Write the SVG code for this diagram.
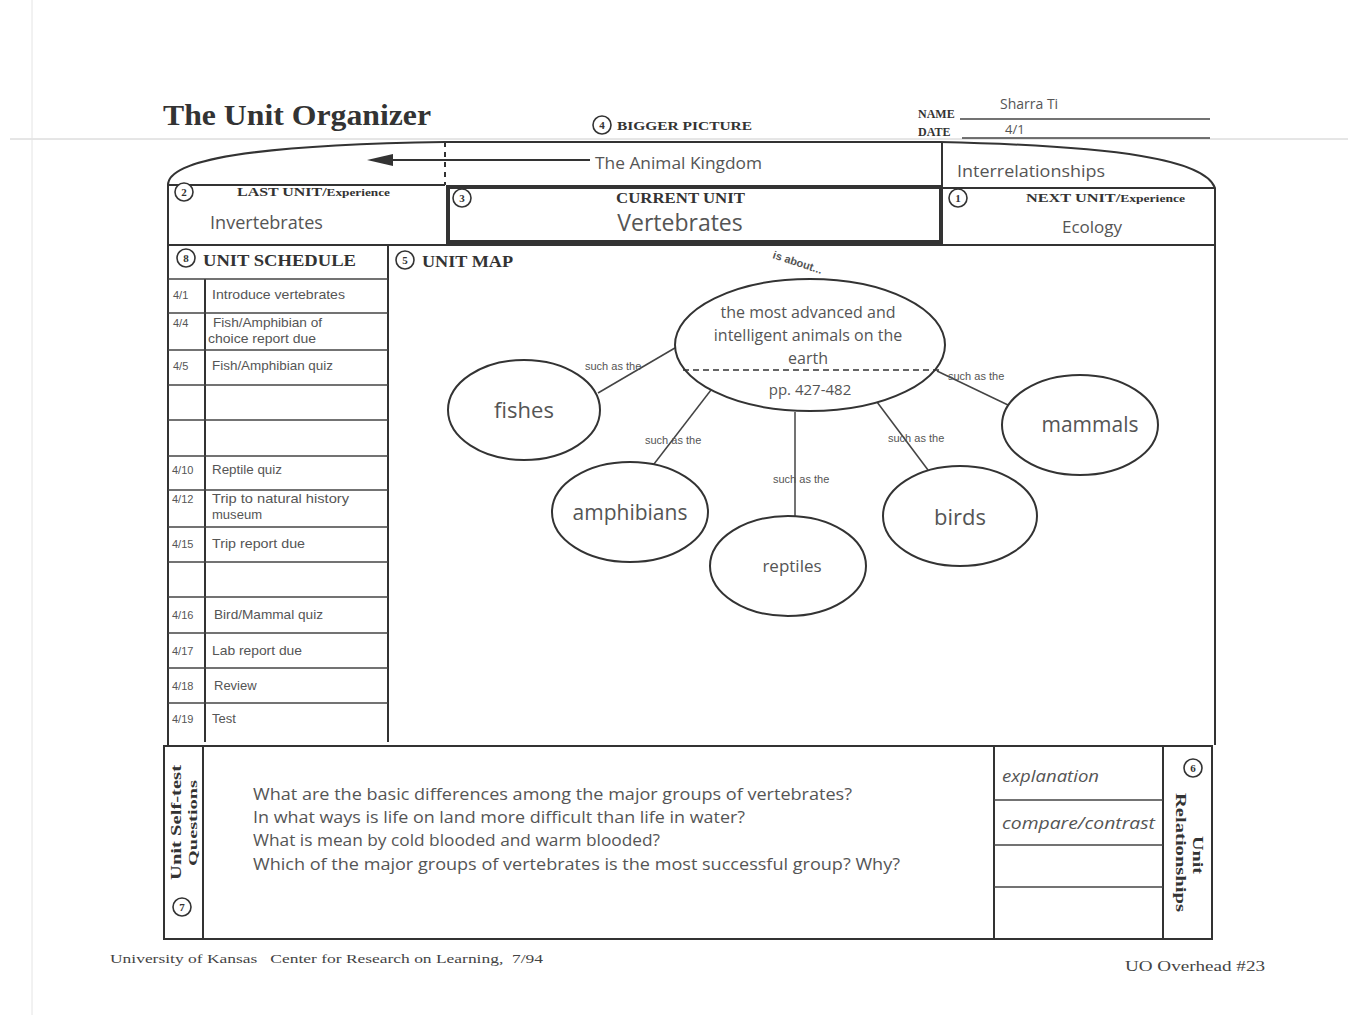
<svg xmlns="http://www.w3.org/2000/svg" width="1348" height="1015" viewBox="0 0 1348 1015">
<defs>
<style>
.ln{stroke:#333;stroke-width:2;fill:none}
.thin{stroke:#444;stroke-width:1.5;fill:none}
.thick{stroke:#333;stroke-width:4;fill:none}
.hd{font-family:"Liberation Serif",serif;font-weight:bold;fill:#333}
.hw{font-family:"Open Sans","DejaVu Sans",sans-serif;fill:#555}
.sm{font-family:"Liberation Sans",sans-serif;fill:#555;font-size:13px}
.lbl{font-family:"Liberation Sans",sans-serif;fill:#555;font-size:11px}
.cn{stroke:#333;stroke-width:1.6;fill:#fff}
.cnt{font-family:"Liberation Serif",serif;font-weight:bold;fill:#333;font-size:11px;text-anchor:middle}
.node{stroke:#333;stroke-width:2;fill:#fff}
</style>
</defs>
<rect width="1348" height="1015" fill="#fff"/>
<line x1="10" y1="139" x2="1348" y2="139" stroke="#ccc" stroke-width="1"/>
<line x1="32" y1="0" x2="32" y2="1015" stroke="#e4e4e4" stroke-width="1"/>

<g id="header">
<text x="163" y="125" class="hd" font-size="29" textLength="268" lengthAdjust="spacingAndGlyphs">The Unit Organizer</text>
<circle cx="602" cy="125" r="9" class="cn"/><text x="602" y="129" class="cnt">4</text>
<text x="617" y="130" class="hd" font-size="13" textLength="135" lengthAdjust="spacingAndGlyphs">BIGGER PICTURE</text>
<text x="918" y="118" class="hd" font-size="12">NAME</text>
<line x1="960" y1="119" x2="1210" y2="119" class="thin"/>
<text x="1000" y="109" class="hw" font-size="14">Sharra Ti</text>
<text x="918" y="136" class="hd" font-size="12">DATE</text>
<line x1="962" y1="138" x2="1210" y2="138" class="thin"/>
<text x="1005" y="134" class="hw" font-size="13">4/1</text>
</g>

<g id="frame">
<path d="M168,245 L168,185 C168,160 250,145 445,142 L940,142 C1120,146 1205,160 1215,188 L1215,745" class="ln" stroke-width="2.5"/>
<line x1="445" y1="142" x2="445" y2="185" stroke="#333" stroke-width="2" stroke-dasharray="5,5"/>
<line x1="942" y1="142" x2="942" y2="245" class="ln" stroke-width="3"/>
<line x1="168" y1="185" x2="445" y2="185" class="ln"/>
<line x1="942" y1="188" x2="1215" y2="188" class="ln"/>
<line x1="168" y1="245" x2="1215" y2="245" class="ln"/>
<line x1="168" y1="245" x2="168" y2="745" class="ln"/>
</g>

<g id="bigger-picture">
<line x1="590" y1="160" x2="390" y2="160" class="ln"/>
<polygon points="367,160 393,154 393,166" fill="#333"/>
<text x="595" y="169" class="hw" font-size="16" textLength="167" lengthAdjust="spacingAndGlyphs">The Animal Kingdom</text>
<text x="957" y="177" class="hw" font-size="16" textLength="148" lengthAdjust="spacingAndGlyphs">Interrelationships</text>
</g>

<g id="last-unit">
<circle cx="184" cy="192" r="9" class="cn"/><text x="184" y="196" class="cnt">2</text>
<text x="237" y="196" class="hd" font-size="12" textLength="153" lengthAdjust="spacingAndGlyphs">LAST UNIT/<tspan font-size="10">Experience</tspan></text>
<text x="210" y="229" class="hw" font-size="18" textLength="113" lengthAdjust="spacingAndGlyphs">Invertebrates</text>
</g>

<g id="current-unit">
<rect x="448" y="187" width="493" height="55" class="thick"/>
<circle cx="462" cy="198" r="9" class="cn"/><text x="462" y="202" class="cnt">3</text>
<text x="616" y="203" class="hd" font-size="14" textLength="129" lengthAdjust="spacingAndGlyphs">CURRENT UNIT</text>
<text x="680" y="231" class="hw" font-size="23" text-anchor="middle">Vertebrates</text>
</g>

<g id="next-unit">
<circle cx="958" cy="198" r="9" class="cn"/><text x="958" y="202" class="cnt">1</text>
<text x="1026" y="202" class="hd" font-size="12" textLength="159" lengthAdjust="spacingAndGlyphs">NEXT UNIT/<tspan font-size="10">Experience</tspan></text>
<text x="1092" y="233" class="hw" font-size="17" text-anchor="middle">Ecology</text>
</g>

<g id="unit-schedule">
<circle cx="186" cy="258" r="9" class="cn"/><text x="186" y="262" class="cnt">8</text>
<text x="203" y="266" class="hd" font-size="16" textLength="153" lengthAdjust="spacingAndGlyphs">UNIT SCHEDULE</text>
<line x1="388" y1="245" x2="388" y2="742" class="ln"/>
<line x1="205" y1="279" x2="205" y2="742" class="ln"/>
<g class="thin">
<line x1="168" y1="279" x2="388" y2="279"/>
<line x1="168" y1="313" x2="388" y2="313"/>
<line x1="168" y1="350" x2="388" y2="350"/>
<line x1="168" y1="385" x2="388" y2="385"/>
<line x1="168" y1="420" x2="388" y2="420"/>
<line x1="168" y1="456" x2="388" y2="456"/>
<line x1="168" y1="490" x2="388" y2="490"/>
<line x1="168" y1="527" x2="388" y2="527"/>
<line x1="168" y1="562" x2="388" y2="562"/>
<line x1="168" y1="597" x2="388" y2="597"/>
<line x1="168" y1="633" x2="388" y2="633"/>
<line x1="168" y1="668" x2="388" y2="668"/>
<line x1="168" y1="703" x2="388" y2="703"/>
</g>
<g class="sm">
<text x="173" y="299" font-size="11">4/1</text><text x="212" y="299" textLength="133" lengthAdjust="spacingAndGlyphs">Introduce vertebrates</text>
<text x="173" y="327" font-size="11">4/4</text><text x="213" y="327" textLength="109" lengthAdjust="spacingAndGlyphs">Fish/Amphibian of</text><text x="208" y="343" textLength="108" lengthAdjust="spacingAndGlyphs">choice report due</text>
<text x="173" y="370" font-size="11">4/5</text><text x="212" y="370" textLength="121" lengthAdjust="spacingAndGlyphs">Fish/Amphibian quiz</text>
<text x="172" y="474" font-size="11">4/10</text><text x="212" y="474" textLength="70" lengthAdjust="spacingAndGlyphs">Reptile quiz</text>
<text x="172" y="503" font-size="11">4/12</text><text x="212" y="503" textLength="137" lengthAdjust="spacingAndGlyphs">Trip to natural history</text><text x="212" y="519" textLength="50" lengthAdjust="spacingAndGlyphs">museum</text>
<text x="172" y="548" font-size="11">4/15</text><text x="212" y="548" textLength="93" lengthAdjust="spacingAndGlyphs">Trip report due</text>
<text x="172" y="619" font-size="11">4/16</text><text x="214" y="619" textLength="109" lengthAdjust="spacingAndGlyphs">Bird/Mammal quiz</text>
<text x="172" y="655" font-size="11">4/17</text><text x="212" y="655" textLength="90" lengthAdjust="spacingAndGlyphs">Lab report due</text>
<text x="172" y="690" font-size="11">4/18</text><text x="214" y="690">Review</text>
<text x="172" y="723" font-size="11">4/19</text><text x="212" y="723">Test</text>
</g>
</g>

<g id="unit-map-title">
<circle cx="405" cy="260" r="9" class="cn"/><text x="405" y="264" class="cnt">5</text>
<text x="422" y="267" class="hd" font-size="16" textLength="91" lengthAdjust="spacingAndGlyphs">UNIT MAP</text>
</g>

<g id="connectors">
<line x1="598" y1="393" x2="680" y2="345" class="thin"/>
<line x1="711" y1="390" x2="654" y2="464" class="thin"/>
<line x1="795" y1="412" x2="795" y2="516" class="thin"/>
<line x1="877" y1="402" x2="928" y2="470" class="thin"/>
<line x1="937" y1="371" x2="1008" y2="405" class="thin"/>
<text x="585" y="370" class="lbl">such as the</text>
<text x="645" y="444" class="lbl">such as the</text>
<text x="773" y="483" class="lbl">such as the</text>
<text x="888" y="442" class="lbl">such as the</text>
<text x="948" y="380" class="lbl">such as the</text>
<text x="772" y="258" class="lbl" font-weight="bold" transform="rotate(18 772 258)">is about...</text>
</g>

<g id="center-node">
<ellipse cx="810" cy="345" rx="135" ry="66" class="node" stroke-width="2.5"/>
<line x1="683" y1="370" x2="940" y2="370" stroke="#333" stroke-width="1.6" stroke-dasharray="6,4"/>
<text class="hw" font-size="16" text-anchor="middle"><tspan x="808" y="318">the most advanced and</tspan><tspan x="808" y="341">intelligent animals on the</tspan><tspan x="808" y="364">earth</tspan></text>
<text x="810" y="395" class="hw" font-size="15" text-anchor="middle">pp. 427-482</text>
</g>

<g id="fishes">
<ellipse cx="524" cy="410" rx="76" ry="50" class="node"/>
<text x="524" y="418" class="hw" font-size="22" text-anchor="middle">fishes</text>
</g>
<g id="amphibians">
<ellipse cx="630" cy="512" rx="78" ry="50" class="node"/>
<text x="630" y="520" class="hw" font-size="21" text-anchor="middle">amphibians</text>
</g>
<g id="reptiles">
<ellipse cx="788" cy="566" rx="78" ry="50" class="node"/>
<text x="792" y="572" class="hw" font-size="17" text-anchor="middle">reptiles</text>
</g>
<g id="birds">
<ellipse cx="960" cy="516" rx="77" ry="50" class="node"/>
<text x="960" y="525" class="hw" font-size="22" text-anchor="middle">birds</text>
</g>
<g id="mammals">
<ellipse cx="1080" cy="425" rx="78" ry="50" class="node"/>
<text x="1090" y="432" class="hw" font-size="21" text-anchor="middle">mammals</text>
</g>

<g id="self-test">
<rect x="164" y="746" width="1048" height="193" class="ln" stroke-width="2.5"/>
<line x1="203" y1="746" x2="203" y2="939" class="ln"/>
<text transform="translate(181 880) rotate(-90)" class="hd" font-size="15" textLength="115" lengthAdjust="spacingAndGlyphs">Unit Self-test</text>
<text transform="translate(197 866) rotate(-90)" class="hd" font-size="13" textLength="86" lengthAdjust="spacingAndGlyphs">Questions</text>
<circle cx="182" cy="907" r="9" class="cn"/><text x="182" y="911" class="cnt">7</text>
<g class="hw" font-size="16">
<text x="253" y="800" textLength="599" lengthAdjust="spacingAndGlyphs">What are the basic differences among the major groups of vertebrates?</text>
<text x="253" y="823" textLength="492" lengthAdjust="spacingAndGlyphs">In what ways is life on land more difficult than life in water?</text>
<text x="253" y="846" textLength="407" lengthAdjust="spacingAndGlyphs">What is mean by cold blooded and warm blooded?</text>
<text x="253" y="870" textLength="647" lengthAdjust="spacingAndGlyphs">Which of the major groups of vertebrates is the most successful group? Why?</text>
</g>
</g>

<g id="relationships">
<line x1="994" y1="746" x2="994" y2="939" class="ln"/>
<line x1="1163" y1="746" x2="1163" y2="939" class="ln"/>
<line x1="994" y1="800" x2="1163" y2="800" class="thin"/>
<line x1="994" y1="845" x2="1163" y2="845" class="thin"/>
<line x1="994" y1="887" x2="1163" y2="887" class="thin"/>
<text x="1002" y="782" class="hw" font-size="16" font-style="italic" textLength="97" lengthAdjust="spacingAndGlyphs">explanation</text>
<text x="1002" y="829" class="hw" font-size="16" font-style="italic" textLength="153" lengthAdjust="spacingAndGlyphs">compare/contrast</text>
<circle cx="1193" cy="768" r="9" class="cn"/><text x="1193" y="772" class="cnt">6</text>
<text transform="translate(1176 793) rotate(90)" class="hd" font-size="14" textLength="119" lengthAdjust="spacingAndGlyphs">Relationships</text>
<text transform="translate(1193 836) rotate(90)" class="hd" font-size="14" textLength="38" lengthAdjust="spacingAndGlyphs">Unit</text>
</g>

<g id="footer">
<text x="110" y="963" font-family="Liberation Serif,serif" font-size="13" fill="#444" textLength="433" lengthAdjust="spacingAndGlyphs" xml:space="preserve">University of Kansas   Center for Research on Learning,  7/94</text>
<text x="1125" y="971" font-family="Liberation Serif,serif" font-size="15" fill="#444" textLength="140" lengthAdjust="spacingAndGlyphs">UO Overhead #23</text>
</g>
</svg>
